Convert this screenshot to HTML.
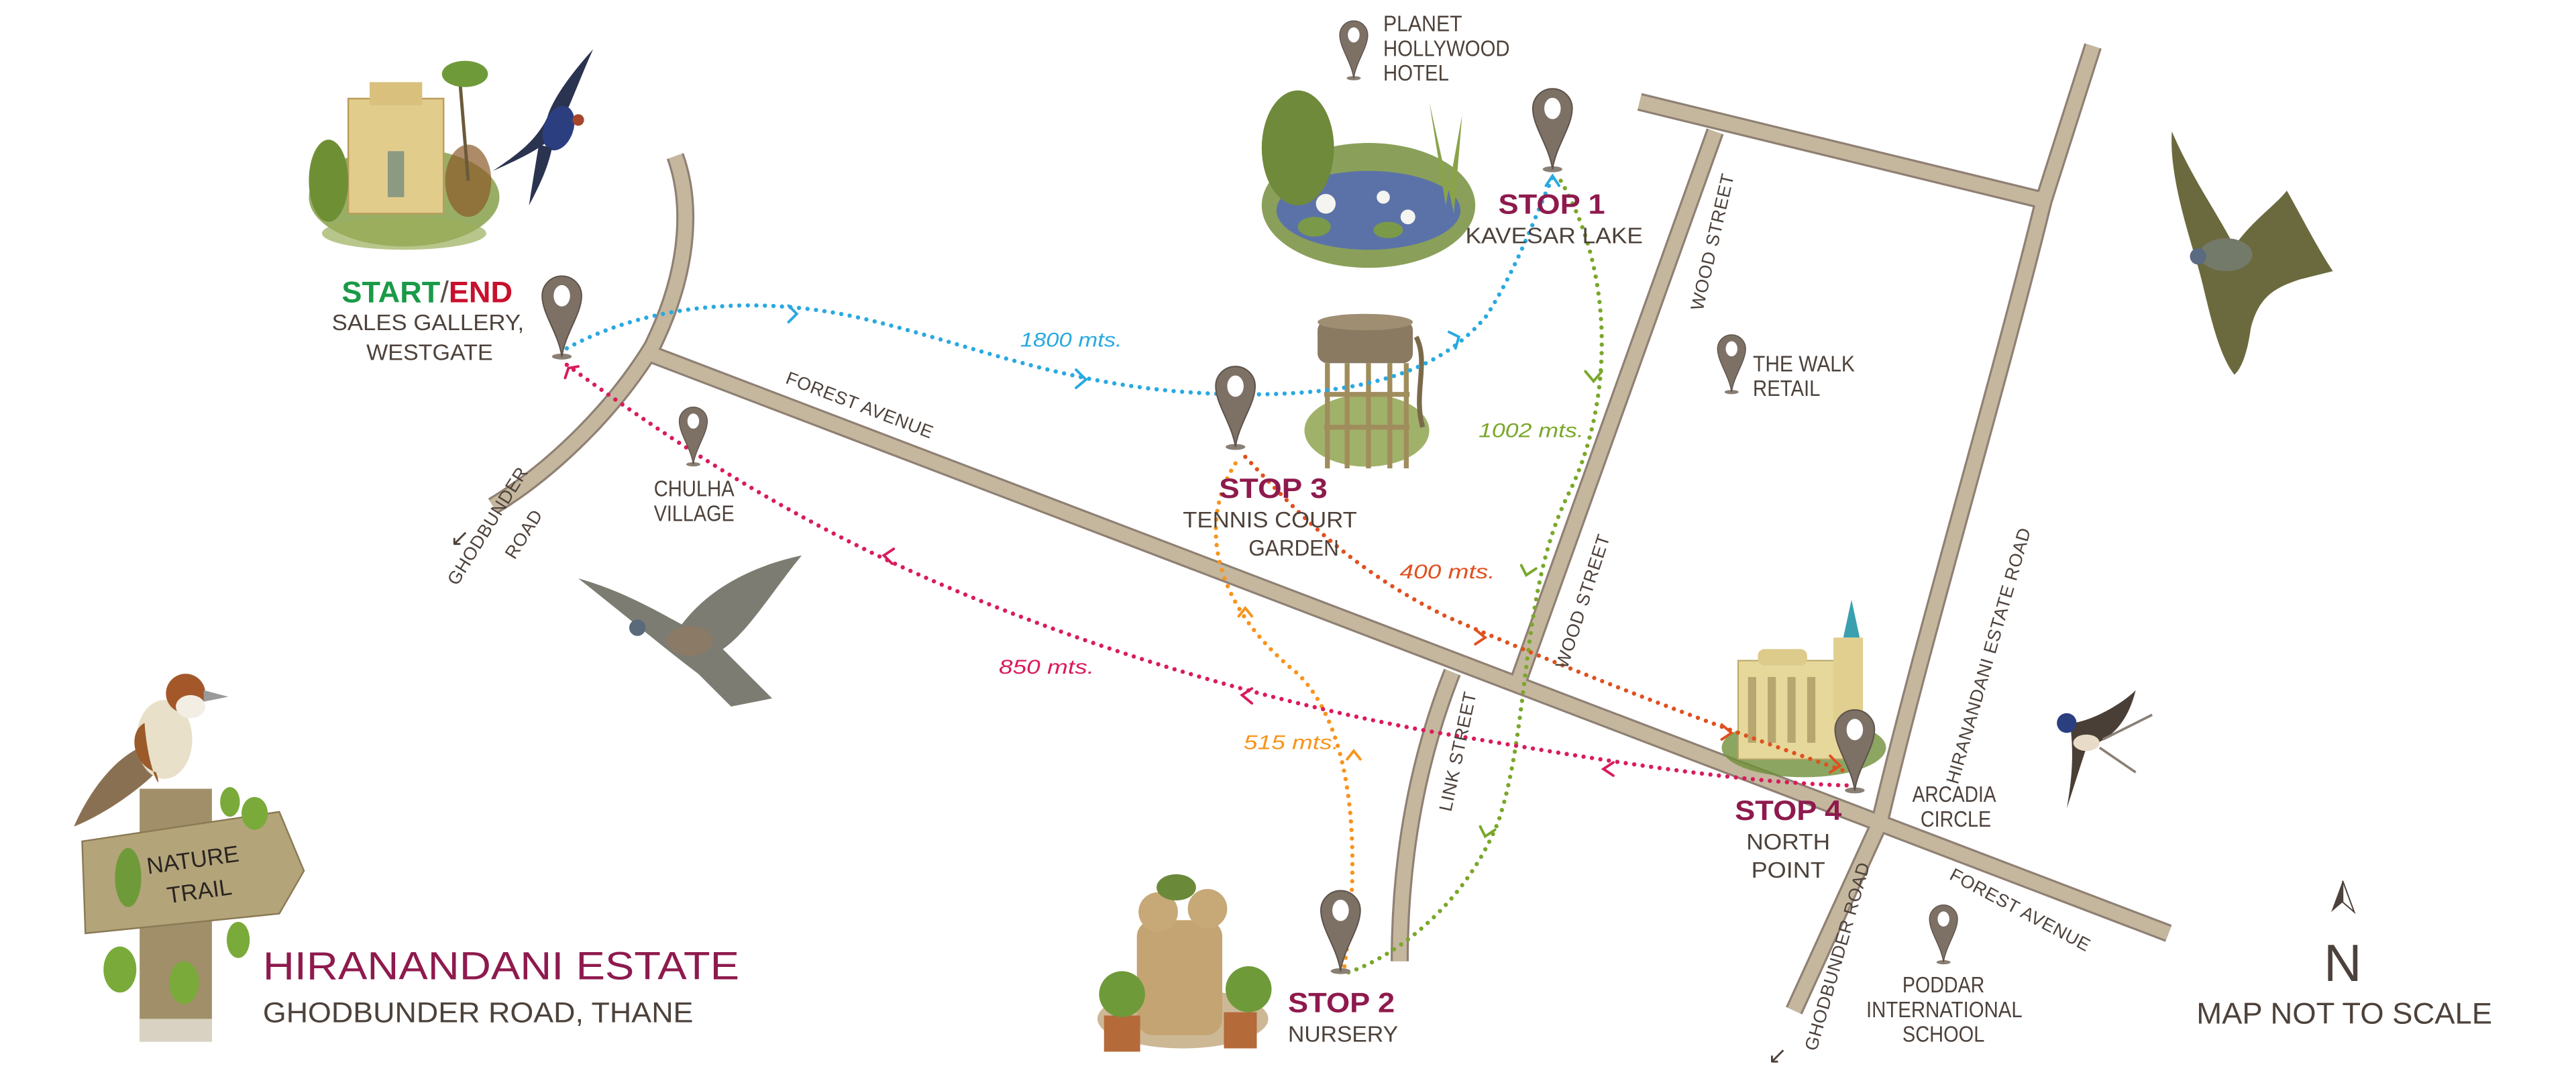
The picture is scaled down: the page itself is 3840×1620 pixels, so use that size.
<!DOCTYPE html>
<html><head><meta charset="utf-8"><style>
html,body{margin:0;padding:0;background:#fff;}
svg{display:block;}
text{font-family:"Liberation Sans",sans-serif;}
.lb{fill:#4d423b;font-size:13.5px;}
.st{fill:#8e1a4d;font-weight:bold;font-size:17px;}
.rd{fill:#4d423b;font-size:11px;font-family:"Liberation Sans",sans-serif;letter-spacing:0.3px;}
.dm{font-style:italic;font-size:12px;}
.dot{fill:none;stroke-width:2.6;stroke-linecap:round;stroke-dasharray:0 5.2;}
</style></head><body>
<svg width="3840" height="1620" viewBox="0 0 1568 661.5" xmlns="http://www.w3.org/2000/svg">
<defs>
<symbol id="pin" viewBox="-14 -50 28 52" overflow="visible">
<ellipse cx="0" cy="0" rx="6" ry="1.8" fill="#8a7f74"/>
<path d="M0,0 C-2,-14 -12,-26 -12,-37 A12,12 0 1 1 12,-37 C12,-26 2,-14 0,0Z" fill="#7d7166" stroke="#5c5249" stroke-width="0.8"/>
<ellipse cx="0" cy="-37" rx="5" ry="6.5" fill="#fff"/>
</symbol>
</defs>

<g fill="none" stroke-linejoin="round">
<g stroke="#8f8073" stroke-width="11">
<path d="M411,95 C420,120 422,160 397,211 C370,255 330,290 300,308"/>
<path d="M395,215 L1320,568"/>
<path d="M998,62 L1244,122"/>
<path d="M1274,28 L1244,122 C1215,240 1170,390 1144,501 L1092,615"/>
<path d="M1044,80 L924,415"/>
<path d="M884,409 C860,470 852,530 852,585"/>
</g>
<g stroke="#c4b79e" stroke-width="8.4">
<path d="M411,95 C420,120 422,160 397,211 C370,255 330,290 300,308"/>
<path d="M395,215 L1320,568"/>
<path d="M998,62 L1244,122"/>
<path d="M1274,28 L1244,122 C1215,240 1170,390 1144,501 L1092,615"/>
<path d="M1044,80 L924,415"/>
<path d="M884,409 C860,470 852,530 852,585"/>
</g>
</g>

<g>
<ellipse cx="246" cy="120" rx="58" ry="30" fill="#7f9a3e" opacity="0.8"/>
<rect x="212" y="60" width="58" height="70" fill="#e2cc8c" stroke="#b99c5a" stroke-width="1"/>
<rect x="225" y="50" width="32" height="14" fill="#d9c07c"/>
<rect x="236" y="92" width="10" height="28" fill="#8c9a82"/>
<ellipse cx="200" cy="110" rx="12" ry="25" fill="#6f8f35"/>
<ellipse cx="285" cy="110" rx="14" ry="22" fill="#8a5a2a" opacity="0.7"/>
<path d="M280,50 L285,110" stroke="#6b5a3a" stroke-width="2"/>
<ellipse cx="283" cy="45" rx="14" ry="8" fill="#6f9a3a"/>
<ellipse cx="246" cy="142" rx="50" ry="10" fill="#9aae5a" opacity="0.7"/>
</g>
<g>
<path d="M361,30 C352,50 345,70 338,82 C330,90 318,96 300,104 C318,92 326,85 333,72 C336,60 350,42 361,30Z" fill="#2a3350"/>
<ellipse cx="340" cy="78" rx="9" ry="14" fill="#2b3f80" transform="rotate(20 340 78)"/>
<circle cx="352" cy="73" r="3.5" fill="#a5452a"/>
<path d="M328,88 C326,100 324,112 322,125 C330,110 334,100 336,90Z" fill="#2a3350"/>
</g>
<g>
<ellipse cx="833" cy="125" rx="65" ry="38" fill="#8aa05a"/>
<ellipse cx="833" cy="128" rx="56" ry="24" fill="#5b72a8"/>
<ellipse cx="790" cy="90" rx="22" ry="35" fill="#6f8a3a"/>
<path d="M870,62 L880,125 L890,70 L885,130Z" fill="#8aa34a"/>
<ellipse cx="800" cy="138" rx="10" ry="6" fill="#7a9a4a"/>
<ellipse cx="845" cy="140" rx="9" ry="5" fill="#7a9a4a"/>
<circle cx="807" cy="124" r="6" fill="#f4f4f0"/>
<circle cx="842" cy="120" r="4" fill="#f4f4f0"/>
<circle cx="857" cy="132" r="4.5" fill="#f4f4f0"/>
</g>
<g>
<ellipse cx="832" cy="262" rx="38" ry="22" fill="#8fa54f" opacity="0.85"/>
<rect x="802" y="195" width="58" height="26" rx="6" fill="#8a7a62"/>
<ellipse cx="831" cy="196" rx="29" ry="5" fill="#a08e72"/>
<g stroke="#a08d5c" stroke-width="3"><path d="M808,221 V285 M820,221 V285 M833,221 V285 M846,221 V285 M856,221 V285 M806,240 H858 M806,260 H858"/></g>
<path d="M862,205 C870,220 860,240 866,260" stroke="#7a6a4a" stroke-width="3" fill="none"/>
</g>
<g>
<ellipse cx="1098" cy="455" rx="50" ry="18" fill="#6f8f3a" opacity="0.8"/>
<rect x="1058" y="402" width="66" height="60" fill="#e6d79a" stroke="#b8a566" stroke-width="0.8"/>
<rect x="1070" y="395" width="30" height="10" rx="4" fill="#dccb8a"/>
<path d="M1122,388 L1127,365 L1132,388Z" fill="#3aa0b0"/>
<rect x="1116" y="388" width="18" height="50" fill="#e0cf8f"/>
<g fill="#b8a670"><rect x="1064" y="412" width="5" height="40"/><rect x="1076" y="412" width="5" height="40"/><rect x="1088" y="412" width="5" height="40"/><rect x="1100" y="412" width="5" height="40"/></g>
</g>
<g>
<ellipse cx="720" cy="620" rx="52" ry="18" fill="#b89a6a" opacity="0.7"/>
<rect x="692" y="560" width="52" height="70" rx="10" fill="#c4a472"/>
<circle cx="705" cy="555" r="12" fill="#c7a877"/>
<circle cx="735" cy="553" r="12" fill="#c7a877"/>
<ellipse cx="716" cy="540" rx="12" ry="8" fill="#6a8a3a"/>
<rect x="672" y="618" width="22" height="22" fill="#b56a3a"/>
<rect x="745" y="616" width="20" height="22" fill="#b56a3a"/>
<ellipse cx="683" cy="605" rx="14" ry="14" fill="#6f9a3a"/>
<ellipse cx="760" cy="602" rx="14" ry="14" fill="#6f9a3a"/>
</g>
<g>
<path d="M352,352 C380,360 400,372 415,380 C430,360 455,345 488,338 C470,360 455,385 440,395 L470,425 L445,430 L425,410 C405,395 385,378 352,352Z" fill="#7d7c72"/>
<ellipse cx="420" cy="390" rx="14" ry="9" fill="#8a7a66"/>
<circle cx="388" cy="382" r="5" fill="#5a6a7a"/>
</g>
<g>
<path d="M1322,80 C1335,110 1350,130 1360,150 C1370,135 1385,125 1392,116 C1400,130 1410,150 1420,165 L1400,170 C1385,175 1375,180 1370,200 C1368,215 1364,225 1360,228 C1350,215 1345,190 1340,170 C1335,150 1320,110 1322,80Z" fill="#6b6a3e"/>
<ellipse cx="1355" cy="155" rx="16" ry="10" fill="#747a6a"/>
<circle cx="1338" cy="156" r="5" fill="#5a6a80"/>
</g>
<g>
<path d="M1300,420 C1295,440 1285,450 1270,455 C1265,470 1262,480 1258,492 C1262,470 1262,455 1260,440 C1270,440 1290,430 1300,420Z" fill="#4a3f36"/>
<circle cx="1258" cy="440" r="6" fill="#2b3f80"/>
<path d="M1280,450 L1310,435 M1278,455 L1300,470" stroke="#8a7f74" stroke-width="1.5"/>
<ellipse cx="1270" cy="452" rx="8" ry="5" fill="#e8dcc8"/>
</g>
<g>
<rect x="85" y="480" width="44" height="154" fill="#a08f68"/>
<rect x="85" y="620" width="44" height="20" fill="#fff" opacity="0.6"/>
<path d="M50,512 L170,494 L185,530 L170,556 L52,568Z" fill="#b4a47a" stroke="#8a7a55" stroke-width="1"/>
<text x="118" y="528" font-family="Liberation Serif,serif" font-size="14" fill="#2a2520" transform="rotate(-8 118 528)" text-anchor="middle">NATURE</text>
<text x="122" y="547" font-family="Liberation Serif,serif" font-size="14" fill="#2a2520" transform="rotate(-8 122 547)" text-anchor="middle">TRAIL</text>
<ellipse cx="78" cy="534" rx="8" ry="18" fill="#6f9a3a"/>
<ellipse cx="155" cy="495" rx="8" ry="10" fill="#7aab3a"/>
<ellipse cx="140" cy="488" rx="6" ry="9" fill="#7aab3a"/>
<ellipse cx="73" cy="590" rx="10" ry="14" fill="#7aab3a"/>
<ellipse cx="112" cy="598" rx="9" ry="13" fill="#7aab3a"/>
<ellipse cx="145" cy="572" rx="7" ry="11" fill="#7aab3a"/>
<path d="M45,503 C55,480 70,462 85,455 L95,470 C85,480 65,495 45,503Z" fill="#8a7052"/>
<ellipse cx="100" cy="450" rx="17" ry="24" fill="#e8e0c8"/>
<path d="M88,440 C90,470 100,485 95,470 C80,465 78,445 88,440Z" fill="#9a5a2a"/>
<circle cx="113" cy="422" r="12" fill="#a4582a"/>
<ellipse cx="116" cy="430" rx="9" ry="7" fill="#f2eee4"/>
<path d="M124,420 L139,424 L124,427Z" fill="#9a9a9a"/>
</g>

<path class="dot" stroke="#29a9e1" d="M345,212 C400,182 470,180 530,195 C600,212 660,240 760,240 C840,240 880,222 905,192 C925,160 935,130 945,108"/>
<path class="dot" stroke="#7aa72a" d="M950,110 C985,170 980,250 955,300 C925,360 932,440 912,500 C892,550 850,582 820,592"/>
<path class="dot" stroke="#e0501e" d="M758,278 C790,312 820,345 880,375 C960,410 1040,440 1125,470"/>
<path class="dot" stroke="#f7941d" d="M752,282 C728,320 740,370 790,410 C830,450 826,540 818,590"/>
<path class="dot" stroke="#d91b5c" d="M345,222 C400,262 470,310 560,350 C650,390 760,425 870,445 C960,460 1050,476 1125,478"/>
<g fill="none" stroke-width="1.6" stroke-linecap="round">
<path d="M480,186 L485,191 L480,196" stroke="#29a9e1"/>
<path d="M655,225 L661,231 L655,236" stroke="#29a9e1"/>
<path d="M882,202 L888,205 L886,212" stroke="#29a9e1"/>
<path d="M941,113 L945,107 L949,113" stroke="#29a9e1"/>
<path d="M965,226 L970,232 L975,226" stroke="#7aa72a"/>
<path d="M926,344 L929,350 L935,346" stroke="#7aa72a"/>
<path d="M901,503 L904,509 L910,505" stroke="#7aa72a"/>
<path d="M898,383 L904,388 L898,392" stroke="#e0501e"/>
<path d="M1048,441 L1054,446 L1048,450" stroke="#e0501e"/>
<path d="M1114,460 L1120,466 L1114,470" stroke="#e0501e"/>
<path d="M754,375 L758,370 L762,375" stroke="#f7941d"/>
<path d="M820,462 L824,457 L828,462" stroke="#f7941d"/>
<path d="M544,334 L538,338 L543,343" stroke="#d91b5c"/>
<path d="M762,419 L756,423 L762,428" stroke="#d91b5c"/>
<path d="M982,464 L976,468 L982,472" stroke="#d91b5c"/>
<path d="M344,230 L346,224 L352,223" stroke="#d91b5c"/>
</g>

<use href="#pin" x="328" y="167" width="28" height="52"/>
<use href="#pin" x="412" y="247" width="20" height="37"/>
<use href="#pin" x="738" y="222" width="28" height="52"/>
<use href="#pin" x="814" y="12" width="20" height="37"/>
<use href="#pin" x="931" y="53" width="28" height="52"/>
<use href="#pin" x="1044" y="203" width="20" height="37"/>
<use href="#pin" x="1115" y="431" width="28" height="52"/>
<use href="#pin" x="802" y="541" width="28" height="52"/>
<use href="#pin" x="1173" y="550" width="20" height="37"/>

<text x="208" y="184" font-weight="bold" font-size="18" textLength="104" lengthAdjust="spacingAndGlyphs"><tspan fill="#1a9a48">START</tspan><tspan fill="#5a4f48" font-weight="normal">/</tspan><tspan fill="#c8102e">END</tspan></text>
<text class="lb" x="202" y="201" textLength="117" lengthAdjust="spacingAndGlyphs">SALES GALLERY,</text>
<text class="lb" x="223" y="219" textLength="77" lengthAdjust="spacingAndGlyphs">WESTGATE</text>
<text class="dm" x="621" y="211" textLength="62" lengthAdjust="spacingAndGlyphs" fill="#29a9e1">1800 mts.</text>
<text class="rd" x="522" y="250" text-anchor="middle" transform="rotate(21 522 250)">FOREST AVENUE</text>
<text class="rd" x="300" y="322" text-anchor="middle" transform="rotate(-58 300 322)">GHODBUNDER</text>
<text class="rd" x="322" y="327" text-anchor="middle" transform="rotate(-58 322 327)">ROAD</text>
<text x="274" y="332" font-size="14" fill="#4d423b" font-family="DejaVu Sans,sans-serif">↙</text>
<text class="lb" x="398" y="302" font-size="12" textLength="49" lengthAdjust="spacingAndGlyphs">CHULHA</text>
<text class="lb" x="398" y="317" font-size="12" textLength="49" lengthAdjust="spacingAndGlyphs">VILLAGE</text>
<text class="st" x="742" y="303" textLength="66" lengthAdjust="spacingAndGlyphs">STOP 3</text>
<text class="lb" x="720" y="321" textLength="106" lengthAdjust="spacingAndGlyphs">TENNIS COURT</text>
<text class="lb" x="760" y="338" textLength="55" lengthAdjust="spacingAndGlyphs">GARDEN</text>
<text class="lb" x="842" y="19" font-size="12" textLength="48" lengthAdjust="spacingAndGlyphs">PLANET</text>
<text class="lb" x="842" y="34" font-size="12" textLength="77" lengthAdjust="spacingAndGlyphs">HOLLYWOOD</text>
<text class="lb" x="842" y="49" font-size="12" textLength="40" lengthAdjust="spacingAndGlyphs">HOTEL</text>
<text class="st" x="912" y="130" textLength="65" lengthAdjust="spacingAndGlyphs">STOP 1</text>
<text class="lb" x="892" y="148" textLength="108" lengthAdjust="spacingAndGlyphs">KAVESAR LAKE</text>
<text class="rd" x="1046" y="148" text-anchor="middle" transform="rotate(-77 1046 148)">WOOD STREET</text>
<text class="lb" x="1067" y="226" font-size="12" textLength="62" lengthAdjust="spacingAndGlyphs">THE WALK</text>
<text class="lb" x="1067" y="241" font-size="12" textLength="41" lengthAdjust="spacingAndGlyphs">RETAIL</text>
<text class="dm" x="900" y="266" textLength="64" lengthAdjust="spacingAndGlyphs" fill="#7aa72a">1002 mts.</text>
<text class="rd" x="967" y="367" text-anchor="middle" transform="rotate(-72 967 367)">WOOD STREET</text>
<text class="dm" x="852" y="352" textLength="58" lengthAdjust="spacingAndGlyphs" fill="#e0501e">400 mts.</text>
<text class="rd" x="891" y="458" text-anchor="middle" transform="rotate(-78 891 458)">LINK STREET</text>
<text class="dm" x="608" y="410" textLength="58" lengthAdjust="spacingAndGlyphs" fill="#d91b5c">850 mts.</text>
<text class="dm" x="757" y="456" textLength="58" lengthAdjust="spacingAndGlyphs" fill="#f7941d">515 mts.</text>
<text class="rd" x="1214" y="400" text-anchor="middle" transform="rotate(-74 1214 400)">HIRANANDANI ESTATE ROAD</text>
<text class="lb" x="1164" y="488" font-size="12" textLength="51" lengthAdjust="spacingAndGlyphs">ARCADIA</text>
<text class="lb" x="1169" y="503" font-size="12" textLength="43" lengthAdjust="spacingAndGlyphs">CIRCLE</text>
<text class="st" x="1056" y="499" textLength="65" lengthAdjust="spacingAndGlyphs">STOP 4</text>
<text class="lb" x="1063" y="517" textLength="51" lengthAdjust="spacingAndGlyphs">NORTH</text>
<text class="lb" x="1066" y="534" textLength="45" lengthAdjust="spacingAndGlyphs">POINT</text>
<text class="rd" x="1122" y="583" text-anchor="middle" transform="rotate(-74 1122 583)">GHODBUNDER ROAD</text>
<text x="1076" y="647" font-size="14" fill="#4d423b" font-family="DejaVu Sans,sans-serif">↙</text>
<text class="rd" x="1228" y="557" text-anchor="middle" transform="rotate(28 1228 557)">FOREST AVENUE</text>
<text class="lb" x="1158" y="604" font-size="12" textLength="50" lengthAdjust="spacingAndGlyphs">PODDAR</text>
<text class="lb" x="1136" y="619" font-size="12" textLength="95" lengthAdjust="spacingAndGlyphs">INTERNATIONAL</text>
<text class="lb" x="1158" y="634" font-size="12" textLength="50" lengthAdjust="spacingAndGlyphs">SCHOOL</text>
<text class="st" x="784" y="616" textLength="65" lengthAdjust="spacingAndGlyphs">STOP 2</text>
<text class="lb" x="784" y="634" textLength="67" lengthAdjust="spacingAndGlyphs">NURSERY</text>
<path d="M1426,536 L1419,555 L1426,549Z" fill="#4d423b"/>
<path d="M1426,536 L1433,555 L1426,549Z" fill="none" stroke="#4d423b" stroke-width="0.8"/>
<text x="1426" y="597" text-anchor="middle" font-size="32" fill="#4d423b">N</text>
<text x="1337" y="623" font-size="18" fill="#4d423b" textLength="180" lengthAdjust="spacingAndGlyphs">MAP NOT TO SCALE</text>
<text x="160" y="596" font-size="24" fill="#8e1a4d" textLength="290" lengthAdjust="spacingAndGlyphs">HIRANANDANI ESTATE</text>
<text x="160" y="622" font-size="17.5" fill="#4d423b" textLength="262" lengthAdjust="spacingAndGlyphs">GHODBUNDER ROAD, THANE</text>
</svg>
</body></html>
